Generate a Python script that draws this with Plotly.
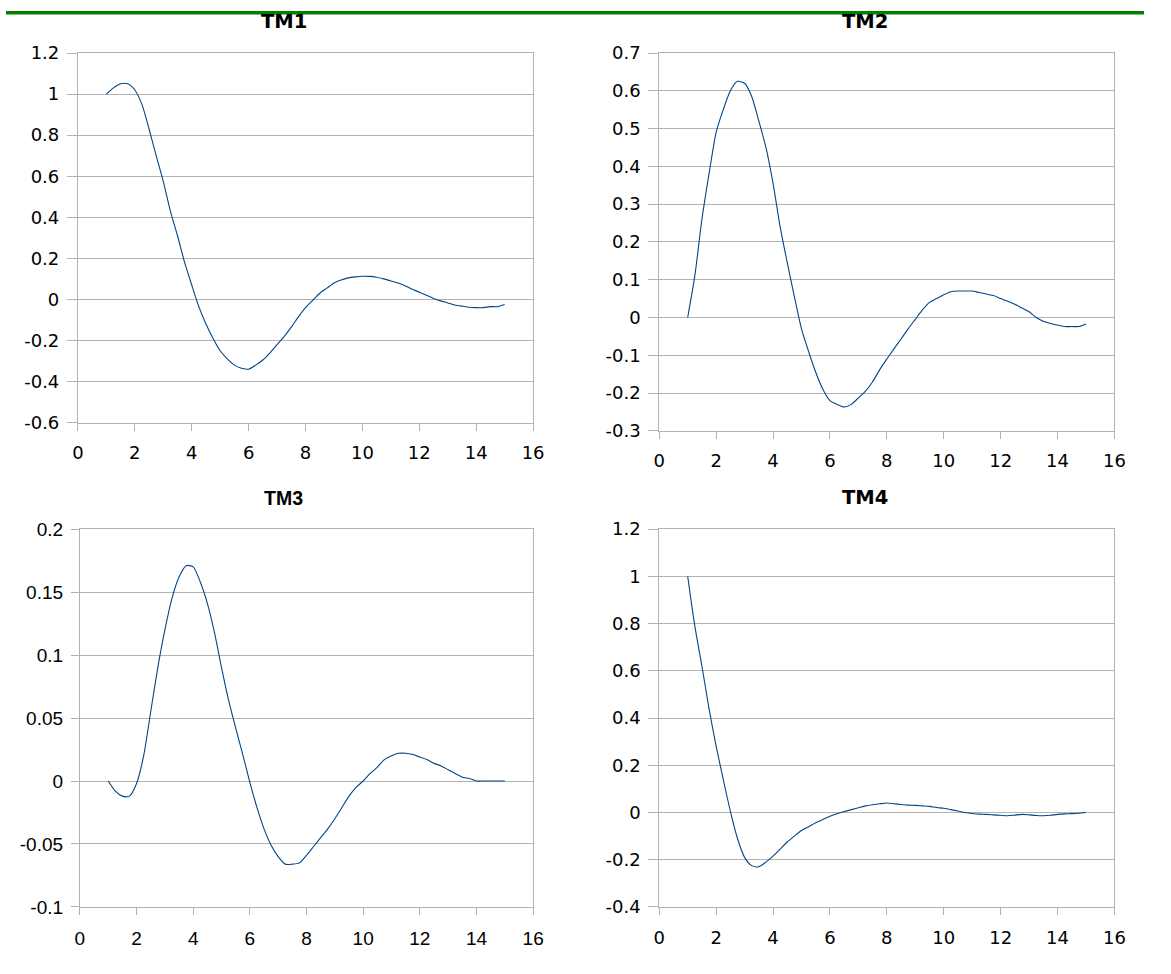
import plotly.graph_objects as go

# ---------------- data ----------------
x_vals = [1.0, 1.25, 1.5, 1.75, 2.0, 2.25, 2.5, 2.75, 3.0, 3.25, 3.5, 3.75,
          4.0, 4.25, 4.5, 4.75, 5.0, 5.25, 5.5, 5.75, 6.0, 6.25, 6.5, 6.75,
          7.0, 7.25, 7.5, 7.75, 8.0, 8.25, 8.5, 8.75, 9.0, 9.25, 9.5, 9.75,
          10.0, 10.25, 10.5, 10.75, 11.0, 11.25, 11.5, 11.75, 12.0, 12.25,
          12.5, 12.75, 13.0, 13.25, 13.5, 13.75, 14.0, 14.25, 14.5, 14.75, 15.0]

tm1 = [1.0, 1.03, 1.05, 1.05, 1.02, 0.95, 0.83, 0.70, 0.575, 0.43, 0.31, 0.18,
       0.07, -0.035, -0.12, -0.19, -0.25, -0.29, -0.32, -0.335, -0.34, -0.32,
       -0.295, -0.26, -0.22, -0.18, -0.135, -0.085, -0.04, -0.005, 0.03, 0.055,
       0.08, 0.095, 0.105, 0.11, 0.113, 0.112, 0.108, 0.10, 0.09, 0.08, 0.067,
       0.05, 0.035, 0.02, 0.005, -0.007, -0.017, -0.027, -0.033, -0.038, -0.04,
       -0.04, -0.035, -0.035, -0.025]

tm2 = [0.0, 0.11, 0.26, 0.38, 0.49, 0.55, 0.60, 0.625, 0.62, 0.585, 0.52, 0.45,
       0.355, 0.24, 0.145, 0.055, -0.03, -0.09, -0.145, -0.19, -0.22, -0.23,
       -0.237, -0.23, -0.213, -0.195, -0.17, -0.138, -0.11, -0.083, -0.057,
       -0.03, -0.005, 0.02, 0.04, 0.05, 0.06, 0.068, 0.07, 0.07, 0.07, 0.066,
       0.062, 0.058, 0.05, 0.043, 0.035, 0.025, 0.015, 0.0, -0.01, -0.016,
       -0.02, -0.024, -0.024, -0.024, -0.017]

tm3 = [0.0, -0.008, -0.012, -0.012, -0.002, 0.02, 0.055, 0.09, 0.12, 0.145,
       0.162, 0.171, 0.17, 0.158, 0.141, 0.118, 0.09, 0.064, 0.042, 0.021,
       -0.001, -0.021, -0.038, -0.051, -0.06, -0.066, -0.066, -0.065, -0.059,
       -0.052, -0.045, -0.038, -0.03, -0.021, -0.012, -0.005, 0.0, 0.006, 0.011,
       0.017, 0.02, 0.022, 0.022, 0.021, 0.019, 0.017, 0.014, 0.012, 0.009,
       0.006, 0.003, 0.002, 0.0, 0.0, 0.0, 0.0, 0.0]

tm4 = [1.0, 0.79, 0.62, 0.44, 0.28, 0.14, 0.005, -0.11, -0.19, -0.225, -0.23,
       -0.21, -0.185, -0.155, -0.125, -0.10, -0.076, -0.06, -0.043, -0.03,
       -0.016, -0.005, 0.004, 0.012, 0.02, 0.028, 0.033, 0.037, 0.04, 0.037,
       0.034, 0.031, 0.03, 0.028, 0.026, 0.021, 0.018, 0.012, 0.006, 0.0,
       -0.004, -0.007, -0.008, -0.01, -0.012, -0.014, -0.011, -0.008, -0.01,
       -0.013, -0.014, -0.012, -0.008, -0.006, -0.005, -0.003, 0.0]

titles = ["TM1", "TM2", "TM3", "TM4"]

x_ticks = [0, 2, 4, 6, 8, 10, 12, 14, 16]
x_ticktext = ["0", "2", "4", "6", "8", "10", "12", "14", "16"]

y1_ticks = [1.2, 1.0, 0.8, 0.6, 0.4, 0.2, 0.0, -0.2, -0.4, -0.6]
y1_text = ["1.2", "1", "0.8", "0.6", "0.4", "0.2", "0", "-0.2", "-0.4", "-0.6"]
y2_ticks = [0.7, 0.6, 0.5, 0.4, 0.3, 0.2, 0.1, 0.0, -0.1, -0.2, -0.3]
y2_text = ["0.7", "0.6", "0.5", "0.4", "0.3", "0.2", "0.1", "0", "-0.1", "-0.2", "-0.3"]
y3_ticks = [0.2, 0.15, 0.1, 0.05, 0.0, -0.05, -0.1]
y3_text = ["0.2", "0.15", "0.1", "0.05", "0", "-0.05", "-0.1"]
y4_ticks = [1.2, 1.0, 0.8, 0.6, 0.4, 0.2, 0.0, -0.2, -0.4]
y4_text = ["1.2", "1", "0.8", "0.6", "0.4", "0.2", "0", "-0.2", "-0.4"]

# ---------------- layout ----------------
# The page body keeps its default 8px margin, so the figure is sized to
# fill the 1171x974 window exactly inside that margin.
PAGE_W, PAGE_H = 1171, 974
OFF = 8
W, H = PAGE_W - 2 * OFF, PAGE_H - 2 * OFF
LINE = "#004586"
GRID = "#b3b3b3"
FONT_A = "DejaVu Sans"
FONT_B = "Liberation Sans"


def px_x(p):
    return (p - OFF) / W


def px_y(p):
    return 1 - (p - OFF) / H


panels = [
    # series, yticks, ytext, x-domain (page px), y-domain (top, bottom), title centre,
    # font family, tick size, y tick length
    (tm1, y1_ticks, y1_text, (81, 543), (51, 429.3), (290, 18.5), FONT_A, 18, 10),
    (tm2, y2_ticks, y2_text, (671, 1133), (51, 437.7), (880, 18.5), FONT_A, 18, 10),
    (tm3, y3_ticks, y3_text, (83, 543), (538.3, 925), (290, 506), FONT_B, 19, 8),
    (tm4, y4_ticks, y4_text, (671, 1133), (538.3, 925), (880, 506), FONT_A, 18, 10),
]

fig = go.Figure()
annotations = []
layout_axes = {}
for i, (ys, yt, ytt, xd, yd, tc, fam, fs, ylen) in enumerate(panels, start=1):
    sfx = "" if i == 1 else str(i)
    fig.add_trace(go.Scatter(
        x=x_vals, y=ys, mode="lines",
        line=dict(color=LINE, width=1.1, shape="spline", smoothing=0.7),
        xaxis="x" + sfx, yaxis="y" + sfx, showlegend=False,
        hoverinfo="x+y",
    ))
    layout_axes["xaxis" + sfx] = dict(
        domain=[px_x(xd[0]), px_x(xd[1])], anchor="y" + sfx,
        range=[0, 16], tickvals=x_ticks, ticktext=x_ticktext,
        showgrid=False, zeroline=False,
        showline=True, linecolor=GRID, linewidth=1, mirror=True,
        ticks="outside", ticklen=7, tickcolor=GRID, tickwidth=1,
        tickfont=dict(family=fam, size=fs, color="#000000"),
        ticklabelstandoff=7,
    )
    layout_axes["yaxis" + sfx] = dict(
        domain=[px_y(yd[1]), px_y(yd[0])], anchor="x" + sfx,
        range=[yt[-1], yt[0]], tickvals=yt, ticktext=ytt,
        showgrid=True, gridcolor=GRID, gridwidth=1, zeroline=False,
        showline=True, linecolor=GRID, linewidth=1, mirror=True,
        ticks="outside", ticklen=ylen, tickcolor=GRID, tickwidth=1,
        tickfont=dict(family=fam, size=fs, color="#000000"),
        ticklabelstandoff=4,
    )
    annotations.append(dict(
        text="<b>" + titles[i - 1] + "</b>",
        x=px_x(tc[0]), y=px_y(tc[1]), xref="paper", yref="paper",
        xanchor="center", yanchor="middle", showarrow=False,
        font=dict(family=fam, size=19.5, color="#000000"),
    ))

fig.update_layout(
    width=W, height=H,
    margin=dict(l=0, r=0, t=0, b=0),
    paper_bgcolor="white", plot_bgcolor="white",
    annotations=annotations,
    shapes=[dict(type="rect", xref="paper", yref="paper",
                 x0=0, x1=1, y0=1 - 3.5 / H, y1=1,
                 fillcolor="#008000", line=dict(width=0), layer="above")],
    **layout_axes,
)

fig.write_html("out.html", config={"displayModeBar": False})
